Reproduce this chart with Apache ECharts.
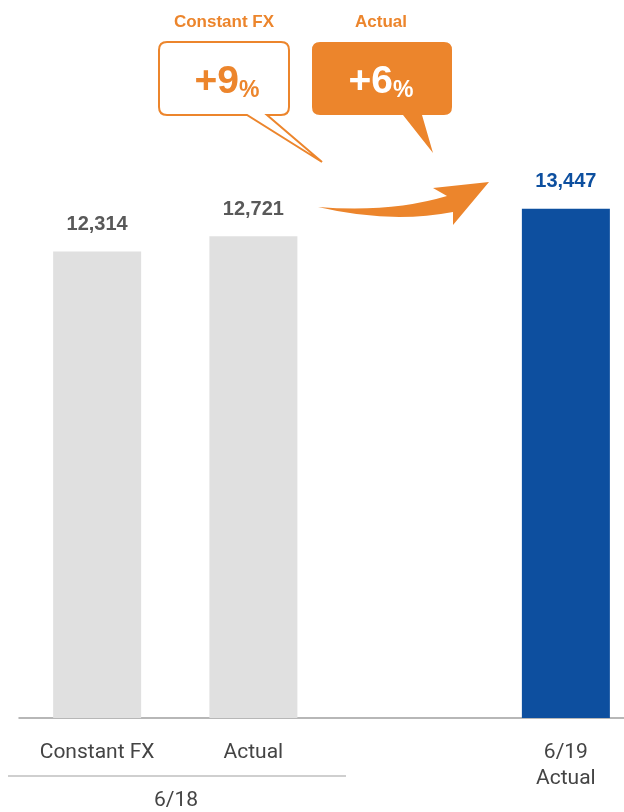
<!DOCTYPE html>
<html><head><meta charset="utf-8">
<style>html,body{margin:0;padding:0;background:#fff}#c{width:624px;height:812px}</style>
<script src="https://cdn.jsdelivr.net/npm/echarts@6/dist/echarts.min.js"></script>
</head><body><div id="c"></div>
<script>
const categories = ['Constant FX', 'Actual', '', '6/19\nActual'];
const values = [12314, 12721, null, 13447];
const barColors = ['#e0e0e0', '#e0e0e0', '#e0e0e0', '#0d4f9f'];
const labelColors = ['#595959', '#595959', '#595959', '#0d4f9f'];
const groupLabel = '6/18';
const calloutTitles = ['Constant FX', 'Actual'];
const calloutValues = ['+9', '+6'];

const ORANGE = '#ec852c';
const AXISFONT = 'Roboto,"Liberation Sans Narrow",sans-serif';
const BOLDFONT = '"Liberation Sans",Arial,sans-serif';

echarts.graphic.registerShape('callout1', echarts.graphic.extendPath('M167,42 H281 Q289,42 289,50 V107 Q289,115 281,115 H267 L322,162 L247,115 H167 Q159,115 159,107 V50 Q159,42 167,42 Z', {}));
echarts.graphic.registerShape('callout2', echarts.graphic.extendPath('M320,42 H444 Q452,42 452,50 V107 Q452,115 444,115 H422 L433,153 L403,115 H320 Q312,115 312,107 V50 Q312,42 320,42 Z', {}));
echarts.graphic.registerShape('bigarrow', echarts.graphic.extendPath('M318,207 Q390,213 447,196 L433,188 L489,182 L453,225 L453,212 Q390,224 318,207 Z', {}));

const chart = echarts.init(document.getElementById('c'));
chart.setOption({
  animation: false,
  grid: { left: 19, right: -20, top: 112, bottom: 94, outerBoundsMode: 'none', containLabel: false },
  xAxis: {
    type: 'category', data: categories,
    axisLine: { lineStyle: { color: '#a0a0a0', width: 1.5 } },
    axisTick: { show: false },
    axisLabel: { interval: 0, margin: 22, fontFamily: AXISFONT, fontSize: 21, lineHeight: 26, color: '#444' }
  },
  yAxis: { type: 'value', min: 0, max: 16000, show: false, splitLine: { show: false } },
  series: [{
    type: 'bar', barWidth: 88,
    data: values.map((v, i) => v == null ? null : ({ value: v, itemStyle: { color: barColors[i] }, label: { color: labelColors[i] } })),
    label: {
      show: true, position: 'top', distance: 17,
      fontFamily: BOLDFONT, fontWeight: 'bold', fontSize: 20,
      formatter: p => p.value.toLocaleString('en-US')
    }
  }],
  graphic: [
    { type: 'line', shape: { x1: 8, y1: 776, x2: 346, y2: 776 }, style: { stroke: '#a0a0a0', lineWidth: 1.2 } },
    { type: 'text', x: 176, y: 801, style: { text: groupLabel, align: 'center', verticalAlign: 'middle', fontFamily: AXISFONT, fontSize: 21, fill: '#444' } },
    { type: 'text', x: 224, y: 22, style: { text: calloutTitles[0], align: 'center', verticalAlign: 'middle', fontFamily: BOLDFONT, fontWeight: 'bold', fontSize: 17, fill: ORANGE } },
    { type: 'text', x: 381, y: 22, style: { text: calloutTitles[1], align: 'center', verticalAlign: 'middle', fontFamily: BOLDFONT, fontWeight: 'bold', fontSize: 17, fill: ORANGE } },
    { type: 'callout1', style: { fill: '#fff', stroke: ORANGE, lineWidth: 2 } },
    { type: 'callout2', style: { fill: ORANGE } },
    { type: 'bigarrow', style: { fill: ORANGE } },
    { type: 'text', x: 227, y: 102, style: { text: '{a|' + calloutValues[0] + '}{b|%}', align: 'center', verticalAlign: 'bottom', fill: ORANGE,
      rich: { a: { fontFamily: BOLDFONT, fontWeight: 'bold', fontSize: 39, verticalAlign: 'bottom', fill: ORANGE },
              b: { fontFamily: BOLDFONT, fontWeight: 'bold', fontSize: 23, verticalAlign: 'bottom', fill: ORANGE } } } },
    { type: 'text', x: 381, y: 102, style: { text: '{a|' + calloutValues[1] + '}{b|%}', align: 'center', verticalAlign: 'bottom', fill: '#fff',
      rich: { a: { fontFamily: BOLDFONT, fontWeight: 'bold', fontSize: 39, verticalAlign: 'bottom', fill: '#fff' },
              b: { fontFamily: BOLDFONT, fontWeight: 'bold', fontSize: 23, verticalAlign: 'bottom', fill: '#fff' } } } }
  ]
});
</script></body></html>
